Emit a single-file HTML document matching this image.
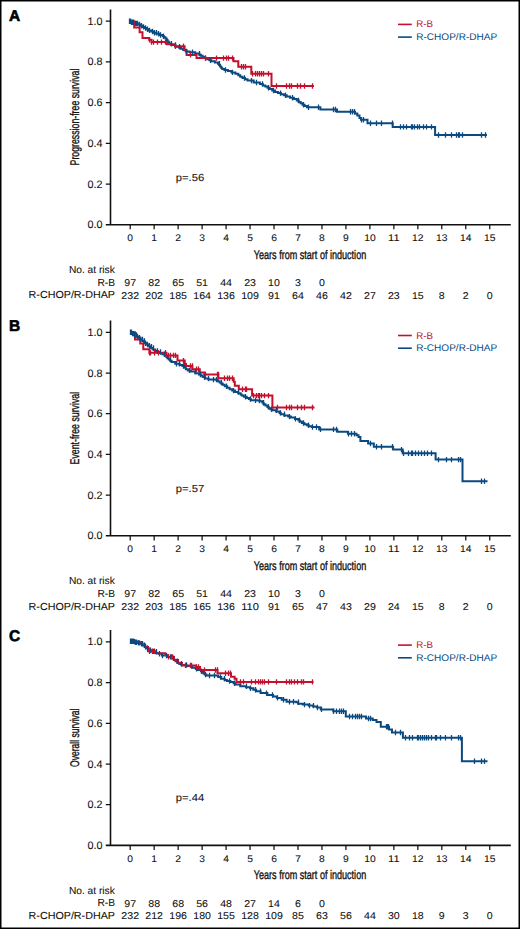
<!DOCTYPE html><html><head><meta charset="utf-8"><style>
html,body{margin:0;padding:0;background:#fff;overflow:hidden;width:520px;height:929px;}
svg{display:block;}
text{font-family:"Liberation Sans", sans-serif;fill:#111;stroke:#111;stroke-width:0.08px;text-rendering:geometricPrecision;}
</style></head><body>
<svg width="520" height="929" viewBox="0 0 520 929">
<rect x="0" y="0" width="520" height="929" fill="#fff"/>
<rect x="0.75" y="0.75" width="518.5" height="927.5" fill="none" stroke="#000" stroke-width="1.5"/>
<text x="9" y="20.90" style="font-weight:bold;font-size:15.5px;fill:#000;stroke:#000;stroke-width:0.6px">A</text><path d="M110.5 9.40V224.70M105.8 224.70H510.8" stroke="#111" stroke-width="1.6" fill="none"/><path d="M105.8 184.00H110.5M105.8 143.30H110.5M105.8 102.60H110.5M105.8 61.90H110.5M105.8 21.20H110.5M130.20 224.70V229.30M154.17 224.70V229.30M178.14 224.70V229.30M202.11 224.70V229.30M226.08 224.70V229.30M250.05 224.70V229.30M274.02 224.70V229.30M297.99 224.70V229.30M321.96 224.70V229.30M345.93 224.70V229.30M369.90 224.70V229.30M393.87 224.70V229.30M417.84 224.70V229.30M441.81 224.70V229.30M465.78 224.70V229.30M489.75 224.70V229.30" stroke="#111" stroke-width="1.25" fill="none"/><text x="102.4" y="228.20" text-anchor="end" style="font-size:10.8px">0.0</text><text x="102.4" y="187.50" text-anchor="end" style="font-size:10.8px">0.2</text><text x="102.4" y="146.80" text-anchor="end" style="font-size:10.8px">0.4</text><text x="102.4" y="106.10" text-anchor="end" style="font-size:10.8px">0.6</text><text x="102.4" y="65.40" text-anchor="end" style="font-size:10.8px">0.8</text><text x="102.4" y="24.70" text-anchor="end" style="font-size:10.8px">1.0</text><text x="130.20" y="241.00" text-anchor="middle" textLength="5.73" lengthAdjust="spacingAndGlyphs" style="font-size:9.6px">0</text><text x="154.17" y="241.00" text-anchor="middle" textLength="5.73" lengthAdjust="spacingAndGlyphs" style="font-size:9.6px">1</text><text x="178.14" y="241.00" text-anchor="middle" textLength="5.73" lengthAdjust="spacingAndGlyphs" style="font-size:9.6px">2</text><text x="202.11" y="241.00" text-anchor="middle" textLength="5.73" lengthAdjust="spacingAndGlyphs" style="font-size:9.6px">3</text><text x="226.08" y="241.00" text-anchor="middle" textLength="5.73" lengthAdjust="spacingAndGlyphs" style="font-size:9.6px">4</text><text x="250.05" y="241.00" text-anchor="middle" textLength="5.73" lengthAdjust="spacingAndGlyphs" style="font-size:9.6px">5</text><text x="274.02" y="241.00" text-anchor="middle" textLength="5.73" lengthAdjust="spacingAndGlyphs" style="font-size:9.6px">6</text><text x="297.99" y="241.00" text-anchor="middle" textLength="5.73" lengthAdjust="spacingAndGlyphs" style="font-size:9.6px">7</text><text x="321.96" y="241.00" text-anchor="middle" textLength="5.73" lengthAdjust="spacingAndGlyphs" style="font-size:9.6px">8</text><text x="345.93" y="241.00" text-anchor="middle" textLength="5.73" lengthAdjust="spacingAndGlyphs" style="font-size:9.6px">9</text><text x="369.90" y="241.00" text-anchor="middle" textLength="11.46" lengthAdjust="spacingAndGlyphs" style="font-size:9.6px">10</text><text x="393.87" y="241.00" text-anchor="middle" textLength="11.46" lengthAdjust="spacingAndGlyphs" style="font-size:9.6px">11</text><text x="417.84" y="241.00" text-anchor="middle" textLength="11.46" lengthAdjust="spacingAndGlyphs" style="font-size:9.6px">12</text><text x="441.81" y="241.00" text-anchor="middle" textLength="11.46" lengthAdjust="spacingAndGlyphs" style="font-size:9.6px">13</text><text x="465.78" y="241.00" text-anchor="middle" textLength="11.46" lengthAdjust="spacingAndGlyphs" style="font-size:9.6px">14</text><text x="489.75" y="241.00" text-anchor="middle" textLength="11.46" lengthAdjust="spacingAndGlyphs" style="font-size:9.6px">15</text><text transform="translate(310 258.60) scale(0.7309 1)" x="0" y="0" text-anchor="middle" style="font-size:12.4px;stroke:#111;stroke-width:0.35px">Years from start of induction</text><text transform="translate(78.7 117.05) rotate(-90) scale(0.6947 1)" x="0" y="0" text-anchor="middle" style="font-size:12.6px;stroke:#111;stroke-width:0.35px">Progression-free survival</text><path d="M398 24.40H411.8" stroke="#c4102e" stroke-width="1.6"/><path d="M398 37.10H411.8" stroke="#0a4a80" stroke-width="1.6"/><text x="416.2" y="27.40" textLength="16.8" lengthAdjust="spacingAndGlyphs" style="font-size:9.6px;fill:#c4102e;stroke:none">R-B</text><text x="416.2" y="40.10" textLength="81.0" lengthAdjust="spacingAndGlyphs" style="font-size:9.6px;fill:#0a4a80;stroke:none">R-CHOP/R-DHAP</text><text x="175.8" y="180.60" textLength="28.4" lengthAdjust="spacingAndGlyphs" style="font-size:10.2px">p=.56</text><text x="114.8" y="273.00" text-anchor="end" style="font-size:10.2px">No. at risk</text><text x="115" y="285.60" text-anchor="end" style="font-size:10.2px">R-B</text><text x="115" y="298.40" text-anchor="end" textLength="86.4" lengthAdjust="spacingAndGlyphs" style="font-size:10.2px">R-CHOP/R-DHAP</text><text x="130.20" y="285.80" text-anchor="middle" textLength="11.78" lengthAdjust="spacingAndGlyphs" style="font-size:9.9px">97</text><text x="154.17" y="285.80" text-anchor="middle" textLength="11.78" lengthAdjust="spacingAndGlyphs" style="font-size:9.9px">82</text><text x="178.14" y="285.80" text-anchor="middle" textLength="11.78" lengthAdjust="spacingAndGlyphs" style="font-size:9.9px">65</text><text x="202.11" y="285.80" text-anchor="middle" textLength="11.78" lengthAdjust="spacingAndGlyphs" style="font-size:9.9px">51</text><text x="226.08" y="285.80" text-anchor="middle" textLength="11.78" lengthAdjust="spacingAndGlyphs" style="font-size:9.9px">44</text><text x="250.05" y="285.80" text-anchor="middle" textLength="11.78" lengthAdjust="spacingAndGlyphs" style="font-size:9.9px">23</text><text x="274.02" y="285.80" text-anchor="middle" textLength="11.78" lengthAdjust="spacingAndGlyphs" style="font-size:9.9px">10</text><text x="297.99" y="285.80" text-anchor="middle" textLength="5.89" lengthAdjust="spacingAndGlyphs" style="font-size:9.9px">3</text><text x="321.96" y="285.80" text-anchor="middle" textLength="5.89" lengthAdjust="spacingAndGlyphs" style="font-size:9.9px">0</text><text x="130.20" y="298.50" text-anchor="middle" textLength="17.67" lengthAdjust="spacingAndGlyphs" style="font-size:9.9px">232</text><text x="154.17" y="298.50" text-anchor="middle" textLength="17.67" lengthAdjust="spacingAndGlyphs" style="font-size:9.9px">202</text><text x="178.14" y="298.50" text-anchor="middle" textLength="17.67" lengthAdjust="spacingAndGlyphs" style="font-size:9.9px">185</text><text x="202.11" y="298.50" text-anchor="middle" textLength="17.67" lengthAdjust="spacingAndGlyphs" style="font-size:9.9px">164</text><text x="226.08" y="298.50" text-anchor="middle" textLength="17.67" lengthAdjust="spacingAndGlyphs" style="font-size:9.9px">136</text><text x="250.05" y="298.50" text-anchor="middle" textLength="17.67" lengthAdjust="spacingAndGlyphs" style="font-size:9.9px">109</text><text x="274.02" y="298.50" text-anchor="middle" textLength="11.78" lengthAdjust="spacingAndGlyphs" style="font-size:9.9px">91</text><text x="297.99" y="298.50" text-anchor="middle" textLength="11.78" lengthAdjust="spacingAndGlyphs" style="font-size:9.9px">64</text><text x="321.96" y="298.50" text-anchor="middle" textLength="11.78" lengthAdjust="spacingAndGlyphs" style="font-size:9.9px">46</text><text x="345.93" y="298.50" text-anchor="middle" textLength="11.78" lengthAdjust="spacingAndGlyphs" style="font-size:9.9px">42</text><text x="369.90" y="298.50" text-anchor="middle" textLength="11.78" lengthAdjust="spacingAndGlyphs" style="font-size:9.9px">27</text><text x="393.87" y="298.50" text-anchor="middle" textLength="11.78" lengthAdjust="spacingAndGlyphs" style="font-size:9.9px">23</text><text x="417.84" y="298.50" text-anchor="middle" textLength="11.78" lengthAdjust="spacingAndGlyphs" style="font-size:9.9px">15</text><text x="441.81" y="298.50" text-anchor="middle" textLength="5.89" lengthAdjust="spacingAndGlyphs" style="font-size:9.9px">8</text><text x="465.78" y="298.50" text-anchor="middle" textLength="5.89" lengthAdjust="spacingAndGlyphs" style="font-size:9.9px">2</text><text x="489.75" y="298.50" text-anchor="middle" textLength="5.89" lengthAdjust="spacingAndGlyphs" style="font-size:9.9px">0</text><path d="M130.2 21.2L131.8 21.2L131.8 22.3L134.8 22.3L134.8 23.4L137.9 23.4L137.9 24.5L139.5 24.5L140.6 24.5L140.6 25.7L142.7 25.7L142.7 26.9L144.8 26.9L144.8 28.0L146.8 28.0L146.8 29.2L148.9 29.2L148.9 30.4L150.0 30.4L151.3 30.4L151.3 31.5L153.8 31.5L153.8 32.7L156.4 32.7L156.4 33.8L157.7 33.8L159.8 33.8L159.8 35.0L161.9 35.0L162.6 35.0L162.6 36.2L164.1 36.2L164.1 37.3L165.5 37.3L165.5 38.5L166.2 38.5L166.7 38.5L166.7 40.0L167.6 40.0L167.6 41.5L168.1 41.5L168.6 41.5L168.6 42.6L169.5 42.6L169.5 43.8L170.0 43.8L171.2 43.8L171.2 44.9L172.4 44.9L175.4 44.9L175.4 46.8L178.5 46.8L179.3 46.8L179.3 47.8L181.0 47.8L181.0 48.8L181.8 48.8L183.2 48.8L183.2 50.1L185.8 50.1L185.8 51.5L187.2 51.5L189.6 51.5L189.6 52.3L191.9 52.3L195.2 52.3L195.2 53.6L198.6 53.6L199.3 53.6L199.3 54.7L200.8 54.7L200.8 55.8L201.5 55.8L202.7 55.8L202.7 56.9L205.0 56.9L205.0 58.1L207.3 58.1L207.3 59.2L208.5 59.2L209.4 59.2L209.4 60.2L211.4 60.2L211.4 61.2L212.3 61.2L214.9 61.2L214.9 62.5L217.5 62.5L218.0 62.5L218.0 63.8L219.1 63.8L219.1 65.1L220.1 65.1L220.1 66.4L221.1 66.4L221.1 67.7L222.2 67.7L222.2 69.0L222.7 69.0L224.4 69.0L224.4 70.0L227.9 70.0L227.9 71.0L229.6 71.0L231.5 71.0L231.5 72.4L235.4 72.4L235.4 73.8L237.3 73.8L238.3 73.8L238.3 75.2L240.2 75.2L240.2 76.7L241.2 76.7L242.5 76.7L242.5 78.0L245.0 78.0L245.0 79.3L247.5 79.3L247.5 80.6L248.8 80.6L253.7 80.6L253.7 82.5L258.5 82.5L259.9 82.5L259.9 84.0L262.8 84.0L262.8 85.4L264.2 85.4L265.3 85.4L265.3 86.6L267.5 86.6L267.5 87.8L269.7 87.8L269.7 89.0L270.8 89.0L272.2 89.0L272.2 90.5L275.1 90.5L275.1 91.9L276.5 91.9L277.9 91.9L277.9 93.1L280.9 93.1L280.9 94.2L282.3 94.2L283.8 94.2L283.8 95.3L286.7 95.3L286.7 96.5L288.1 96.5L290.0 96.5L290.0 97.8L293.9 97.8L293.9 99.0L295.8 99.0L296.8 99.0L296.8 100.5L298.7 100.5L298.7 101.9L299.6 101.9L300.6 101.9L300.6 103.3L302.5 103.3L302.5 104.8L303.5 104.8L304.6 104.8L304.6 106.0L306.9 106.0L306.9 107.3L308.0 107.3L320.4 107.3L320.4 109.5L337.0 109.5L337.0 111.7L355.0 111.7L355.0 113.5L357.3 113.5L357.3 115.6L359.5 115.6L359.5 118.0L361.0 118.0L361.0 119.8L367.5 119.8L367.5 123.3L392.7 123.3L392.7 126.9L435.1 126.9L435.1 135.0L487.0 135.0" stroke="#0a4a80" stroke-width="2.0" fill="none" stroke-linejoin="miter"/><path d="M130.2 21.2L134.2 21.2L134.2 27.6L139.6 27.6L139.6 32.3L142.5 32.3L142.5 38.0L149.2 38.0L149.2 39.8L151.5 39.8L151.5 42.1L167.0 42.1L167.0 44.3L175.0 44.3L175.0 46.3L184.6 46.3L184.6 50.3L186.6 50.3L186.6 54.9L196.5 54.9L196.5 58.1L233.5 58.1L233.5 61.3L238.3 61.3L238.3 66.7L251.3 66.7L251.3 73.8L271.5 73.8L271.5 86.0L314.0 86.0" stroke="#c4102e" stroke-width="2.0" fill="none" stroke-linejoin="miter"/><path d="M129.5 18.5v5.4M130.5 18.5v5.4M131.5 19.6v5.4M132.5 19.6v5.4M133.5 19.6v5.4M135.5 20.7v5.4M136.5 20.7v5.4M137.5 20.7v5.4M139.5 21.8v5.4M141.5 23.0v5.4M143.5 24.2v5.4M145.5 25.3v5.4M147.5 26.5v5.4M149.5 27.7v5.4M152.5 28.8v5.4M154.5 30.0v5.4M156.5 30.0v5.4M158.5 31.1v5.4M160.5 32.3v5.4M163.5 33.5v5.4M171.5 41.1v5.4M175.5 42.2v5.4M179.5 44.1v5.4M186.5 48.8v5.4M192.5 49.6v5.4M199.5 50.9v5.4M205.5 55.4v5.4M210.5 57.5v5.4M219.5 61.1v5.4M225.5 67.3v5.4M232.5 69.7v5.4M244.5 75.3v5.4M251.5 77.9v5.4M256.5 79.8v5.4M262.5 81.2v5.4M268.5 85.1v5.4M273.5 87.8v5.4M280.5 90.4v5.4M285.5 92.6v5.4M292.5 95.0v5.4M298.5 97.8v5.4M303.5 102.1v5.4M308.5 104.6v5.4M318.5 104.6v5.4M333.5 106.8v5.4M335.5 106.8v5.4M350.5 109.0v5.4M352.5 109.0v5.4M354.5 109.0v5.4M361.5 117.1v5.4M363.5 117.1v5.4M370.5 120.6v5.4M376.5 120.6v5.4M381.5 120.6v5.4M392.5 120.6v5.4M400.5 124.2v5.4M403.5 124.2v5.4M406.5 124.2v5.4M411.5 124.2v5.4M412.5 124.2v5.4M414.5 124.2v5.4M417.5 124.2v5.4M419.5 124.2v5.4M423.5 124.2v5.4M426.5 124.2v5.4M431.5 124.2v5.4M438.5 132.3v5.4M445.5 132.3v5.4M451.5 132.3v5.4M456.5 132.3v5.4M458.5 132.3v5.4M459.5 132.3v5.4M462.5 132.3v5.4M481.5 132.3v5.4M485.5 132.3v5.4" stroke="#0a4a80" stroke-width="1.3" fill="none"/><path d="M149.5 37.1v5.4M151.5 39.4v5.4M153.5 39.4v5.4M157.5 39.4v5.4M161.5 39.4v5.4M165.5 39.4v5.4M175.5 43.6v5.4M183.5 43.6v5.4M190.5 52.2v5.4M205.5 55.4v5.4M216.5 55.4v5.4M223.5 55.4v5.4M226.5 55.4v5.4M228.5 55.4v5.4M232.5 55.4v5.4M241.5 64.0v5.4M243.5 64.0v5.4M245.5 64.0v5.4M252.5 71.1v5.4M255.5 71.1v5.4M257.5 71.1v5.4M259.5 71.1v5.4M261.5 71.1v5.4M263.5 71.1v5.4M268.5 71.1v5.4M276.5 83.3v5.4M286.5 83.3v5.4M289.5 83.3v5.4M291.5 83.3v5.4M297.5 83.3v5.4M300.5 83.3v5.4M304.5 83.3v5.4M312.5 83.3v5.4" stroke="#c4102e" stroke-width="1.3" fill="none"/>
<text x="9" y="331.30" style="font-weight:bold;font-size:15.5px;fill:#000;stroke:#000;stroke-width:0.6px">B</text><path d="M110.5 320.50V535.80M105.8 535.80H510.8" stroke="#111" stroke-width="1.6" fill="none"/><path d="M105.8 495.10H110.5M105.8 454.40H110.5M105.8 413.70H110.5M105.8 373.00H110.5M105.8 332.30H110.5M130.20 535.80V540.40M154.17 535.80V540.40M178.14 535.80V540.40M202.11 535.80V540.40M226.08 535.80V540.40M250.05 535.80V540.40M274.02 535.80V540.40M297.99 535.80V540.40M321.96 535.80V540.40M345.93 535.80V540.40M369.90 535.80V540.40M393.87 535.80V540.40M417.84 535.80V540.40M441.81 535.80V540.40M465.78 535.80V540.40M489.75 535.80V540.40" stroke="#111" stroke-width="1.25" fill="none"/><text x="102.4" y="539.30" text-anchor="end" style="font-size:10.8px">0.0</text><text x="102.4" y="498.60" text-anchor="end" style="font-size:10.8px">0.2</text><text x="102.4" y="457.90" text-anchor="end" style="font-size:10.8px">0.4</text><text x="102.4" y="417.20" text-anchor="end" style="font-size:10.8px">0.6</text><text x="102.4" y="376.50" text-anchor="end" style="font-size:10.8px">0.8</text><text x="102.4" y="335.80" text-anchor="end" style="font-size:10.8px">1.0</text><text x="130.20" y="552.10" text-anchor="middle" textLength="5.73" lengthAdjust="spacingAndGlyphs" style="font-size:9.6px">0</text><text x="154.17" y="552.10" text-anchor="middle" textLength="5.73" lengthAdjust="spacingAndGlyphs" style="font-size:9.6px">1</text><text x="178.14" y="552.10" text-anchor="middle" textLength="5.73" lengthAdjust="spacingAndGlyphs" style="font-size:9.6px">2</text><text x="202.11" y="552.10" text-anchor="middle" textLength="5.73" lengthAdjust="spacingAndGlyphs" style="font-size:9.6px">3</text><text x="226.08" y="552.10" text-anchor="middle" textLength="5.73" lengthAdjust="spacingAndGlyphs" style="font-size:9.6px">4</text><text x="250.05" y="552.10" text-anchor="middle" textLength="5.73" lengthAdjust="spacingAndGlyphs" style="font-size:9.6px">5</text><text x="274.02" y="552.10" text-anchor="middle" textLength="5.73" lengthAdjust="spacingAndGlyphs" style="font-size:9.6px">6</text><text x="297.99" y="552.10" text-anchor="middle" textLength="5.73" lengthAdjust="spacingAndGlyphs" style="font-size:9.6px">7</text><text x="321.96" y="552.10" text-anchor="middle" textLength="5.73" lengthAdjust="spacingAndGlyphs" style="font-size:9.6px">8</text><text x="345.93" y="552.10" text-anchor="middle" textLength="5.73" lengthAdjust="spacingAndGlyphs" style="font-size:9.6px">9</text><text x="369.90" y="552.10" text-anchor="middle" textLength="11.46" lengthAdjust="spacingAndGlyphs" style="font-size:9.6px">10</text><text x="393.87" y="552.10" text-anchor="middle" textLength="11.46" lengthAdjust="spacingAndGlyphs" style="font-size:9.6px">11</text><text x="417.84" y="552.10" text-anchor="middle" textLength="11.46" lengthAdjust="spacingAndGlyphs" style="font-size:9.6px">12</text><text x="441.81" y="552.10" text-anchor="middle" textLength="11.46" lengthAdjust="spacingAndGlyphs" style="font-size:9.6px">13</text><text x="465.78" y="552.10" text-anchor="middle" textLength="11.46" lengthAdjust="spacingAndGlyphs" style="font-size:9.6px">14</text><text x="489.75" y="552.10" text-anchor="middle" textLength="11.46" lengthAdjust="spacingAndGlyphs" style="font-size:9.6px">15</text><text transform="translate(310 569.70) scale(0.7309 1)" x="0" y="0" text-anchor="middle" style="font-size:12.4px;stroke:#111;stroke-width:0.35px">Years from start of induction</text><text transform="translate(78.7 428.15) rotate(-90) scale(0.6959 1)" x="0" y="0" text-anchor="middle" style="font-size:12.6px;stroke:#111;stroke-width:0.35px">Event-free survival</text><path d="M398 335.50H411.8" stroke="#c4102e" stroke-width="1.6"/><path d="M398 348.20H411.8" stroke="#0a4a80" stroke-width="1.6"/><text x="416.2" y="338.50" textLength="16.8" lengthAdjust="spacingAndGlyphs" style="font-size:9.6px;fill:#c4102e;stroke:none">R-B</text><text x="416.2" y="351.20" textLength="81.0" lengthAdjust="spacingAndGlyphs" style="font-size:9.6px;fill:#0a4a80;stroke:none">R-CHOP/R-DHAP</text><text x="175.8" y="491.70" textLength="28.4" lengthAdjust="spacingAndGlyphs" style="font-size:10.2px">p=.57</text><text x="114.8" y="584.10" text-anchor="end" style="font-size:10.2px">No. at risk</text><text x="115" y="596.70" text-anchor="end" style="font-size:10.2px">R-B</text><text x="115" y="609.50" text-anchor="end" textLength="86.4" lengthAdjust="spacingAndGlyphs" style="font-size:10.2px">R-CHOP/R-DHAP</text><text x="130.20" y="596.90" text-anchor="middle" textLength="11.78" lengthAdjust="spacingAndGlyphs" style="font-size:9.9px">97</text><text x="154.17" y="596.90" text-anchor="middle" textLength="11.78" lengthAdjust="spacingAndGlyphs" style="font-size:9.9px">82</text><text x="178.14" y="596.90" text-anchor="middle" textLength="11.78" lengthAdjust="spacingAndGlyphs" style="font-size:9.9px">65</text><text x="202.11" y="596.90" text-anchor="middle" textLength="11.78" lengthAdjust="spacingAndGlyphs" style="font-size:9.9px">51</text><text x="226.08" y="596.90" text-anchor="middle" textLength="11.78" lengthAdjust="spacingAndGlyphs" style="font-size:9.9px">44</text><text x="250.05" y="596.90" text-anchor="middle" textLength="11.78" lengthAdjust="spacingAndGlyphs" style="font-size:9.9px">23</text><text x="274.02" y="596.90" text-anchor="middle" textLength="11.78" lengthAdjust="spacingAndGlyphs" style="font-size:9.9px">10</text><text x="297.99" y="596.90" text-anchor="middle" textLength="5.89" lengthAdjust="spacingAndGlyphs" style="font-size:9.9px">3</text><text x="321.96" y="596.90" text-anchor="middle" textLength="5.89" lengthAdjust="spacingAndGlyphs" style="font-size:9.9px">0</text><text x="130.20" y="609.60" text-anchor="middle" textLength="17.67" lengthAdjust="spacingAndGlyphs" style="font-size:9.9px">232</text><text x="154.17" y="609.60" text-anchor="middle" textLength="17.67" lengthAdjust="spacingAndGlyphs" style="font-size:9.9px">203</text><text x="178.14" y="609.60" text-anchor="middle" textLength="17.67" lengthAdjust="spacingAndGlyphs" style="font-size:9.9px">185</text><text x="202.11" y="609.60" text-anchor="middle" textLength="17.67" lengthAdjust="spacingAndGlyphs" style="font-size:9.9px">165</text><text x="226.08" y="609.60" text-anchor="middle" textLength="17.67" lengthAdjust="spacingAndGlyphs" style="font-size:9.9px">136</text><text x="250.05" y="609.60" text-anchor="middle" textLength="17.67" lengthAdjust="spacingAndGlyphs" style="font-size:9.9px">110</text><text x="274.02" y="609.60" text-anchor="middle" textLength="11.78" lengthAdjust="spacingAndGlyphs" style="font-size:9.9px">91</text><text x="297.99" y="609.60" text-anchor="middle" textLength="11.78" lengthAdjust="spacingAndGlyphs" style="font-size:9.9px">65</text><text x="321.96" y="609.60" text-anchor="middle" textLength="11.78" lengthAdjust="spacingAndGlyphs" style="font-size:9.9px">47</text><text x="345.93" y="609.60" text-anchor="middle" textLength="11.78" lengthAdjust="spacingAndGlyphs" style="font-size:9.9px">43</text><text x="369.90" y="609.60" text-anchor="middle" textLength="11.78" lengthAdjust="spacingAndGlyphs" style="font-size:9.9px">29</text><text x="393.87" y="609.60" text-anchor="middle" textLength="11.78" lengthAdjust="spacingAndGlyphs" style="font-size:9.9px">24</text><text x="417.84" y="609.60" text-anchor="middle" textLength="11.78" lengthAdjust="spacingAndGlyphs" style="font-size:9.9px">15</text><text x="441.81" y="609.60" text-anchor="middle" textLength="5.89" lengthAdjust="spacingAndGlyphs" style="font-size:9.9px">8</text><text x="465.78" y="609.60" text-anchor="middle" textLength="5.89" lengthAdjust="spacingAndGlyphs" style="font-size:9.9px">2</text><text x="489.75" y="609.60" text-anchor="middle" textLength="5.89" lengthAdjust="spacingAndGlyphs" style="font-size:9.9px">0</text><path d="M130.2 332.3L131.6 332.3L131.6 333.6L134.3 333.6L134.3 335.0L135.7 335.0L136.6 335.0L136.6 336.4L138.6 336.4L138.6 337.8L139.5 337.8L140.5 337.8L140.5 339.4L142.4 339.4L142.4 341.0L143.4 341.0L144.0 341.0L144.0 342.2L145.3 342.2L145.3 343.3L146.6 343.3L146.6 344.5L147.2 344.5L148.0 344.5L148.0 345.7L149.6 345.7L149.6 346.8L151.1 346.8L151.1 348.0L151.9 348.0L153.1 348.0L153.1 349.5L155.3 349.5L155.3 351.0L156.5 351.0L157.7 351.0L157.7 352.0L160.0 352.0L160.0 353.0L161.2 353.0L162.3 353.0L162.3 354.2L163.5 354.2L164.7 354.2L164.7 355.5L165.8 355.5L166.4 355.5L166.4 356.9L167.4 356.9L167.4 358.3L168.0 358.3L168.7 358.3L168.7 359.5L170.2 359.5L170.2 360.8L171.6 360.8L171.6 362.0L172.3 362.0L175.2 362.0L175.2 363.8L178.1 363.8L179.6 363.8L179.6 364.9L182.4 364.9L182.4 366.0L183.9 366.0L184.6 366.0L184.6 367.6L185.8 367.6L185.8 369.2L186.5 369.2L187.9 369.2L187.9 370.4L190.9 370.4L190.9 371.5L192.3 371.5L195.2 371.5L195.2 373.3L198.1 373.3L198.9 373.3L198.9 374.5L200.7 374.5L200.7 375.6L201.5 375.6L202.7 375.6L202.7 377.1L205.0 377.1L205.0 378.5L206.2 378.5L208.5 378.5L208.5 379.6L210.8 379.6L216.5 379.6L216.5 380.0L217.7 380.0L217.7 381.3L218.8 381.3L219.6 381.3L219.6 382.5L221.2 382.5L221.2 383.6L222.7 383.6L222.7 384.8L223.5 384.8L224.7 384.8L224.7 386.3L227.2 386.3L227.2 387.7L229.6 387.7L229.6 389.2L230.8 389.2L232.2 389.2L232.2 390.6L235.1 390.6L235.1 392.1L236.5 392.1L238.2 392.1L238.2 393.3L240.0 393.3L240.6 393.3L240.6 394.5L241.7 394.5L241.7 395.6L242.3 395.6L243.8 395.6L243.8 396.8L246.7 396.8L246.7 397.9L248.1 397.9L248.9 397.9L248.9 399.0L250.7 399.0L250.7 400.2L251.5 400.2L257.3 400.2L257.3 400.6L259.6 400.6L259.6 401.3L261.9 401.3L262.5 401.3L262.5 402.8L263.6 402.8L263.6 404.2L264.2 404.2L265.4 404.2L265.4 405.5L266.7 405.5L267.4 405.5L267.4 406.9L268.7 406.9L268.7 408.2L269.4 408.2L270.4 408.2L270.4 409.2L272.5 409.2L272.5 410.2L273.5 410.2L276.1 410.2L276.1 411.5L278.8 411.5L279.5 411.5L279.5 412.9L280.8 412.9L280.8 414.2L281.5 414.2L284.2 414.2L284.2 415.6L286.9 415.6L288.2 415.6L288.2 416.6L290.9 416.6L290.9 417.6L292.3 417.6L295.0 417.6L295.0 418.9L297.7 418.9L298.4 418.9L298.4 420.2L299.7 420.2L299.7 421.6L300.4 421.6L301.8 421.6L301.8 423.0L304.4 423.0L304.4 424.3L305.8 424.3L306.8 424.3L306.8 425.3L308.8 425.3L308.8 426.3L309.8 426.3L311.8 426.3L311.8 427.0L313.8 427.0L319.2 427.0L319.2 429.4L337.3 429.4L337.3 431.7L347.9 431.7L347.9 433.7L356.5 433.7L356.5 435.2L358.5 435.2L358.5 437.1L360.4 437.1L360.4 441.0L368.1 441.0L368.1 443.5L373.8 443.5L373.8 446.7L393.1 446.7L393.1 449.6L402.7 449.6L402.7 453.3L435.6 453.3L435.6 459.6L462.5 459.6L462.5 481.3L487.5 481.3" stroke="#0a4a80" stroke-width="2.0" fill="none" stroke-linejoin="miter"/><path d="M130.2 332.3L135.0 332.3L135.0 339.5L140.3 339.5L140.3 343.5L143.3 343.5L143.3 349.3L149.4 349.3L149.4 352.8L166.5 352.8L166.5 355.4L177.5 355.4L177.5 360.6L184.8 360.6L184.8 364.0L186.0 364.0L186.0 366.0L192.3 366.0L192.3 369.2L199.8 369.2L199.8 372.5L204.4 372.5L204.4 374.4L218.3 374.4L218.3 378.2L233.7 378.2L233.7 381.7L234.8 381.7L234.8 385.8L238.8 385.8L238.8 389.2L252.1 389.2L252.1 395.6L272.4 395.6L272.4 407.5L314.5 407.5" stroke="#c4102e" stroke-width="2.0" fill="none" stroke-linejoin="miter"/><path d="M130.5 329.6v5.4M131.5 329.6v5.4M132.5 330.9v5.4M133.5 330.9v5.4M134.5 332.3v5.4M136.5 332.3v5.4M137.5 333.7v5.4M139.5 335.1v5.4M140.5 336.7v5.4M142.5 336.7v5.4M144.5 338.3v5.4M145.5 340.6v5.4M147.5 341.8v5.4M149.5 343.0v5.4M151.5 344.1v5.4M153.5 345.3v5.4M157.5 348.3v5.4M160.5 349.3v5.4M164.5 351.5v5.4M170.5 356.8v5.4M176.5 361.1v5.4M179.5 361.1v5.4M183.5 363.3v5.4M189.5 367.7v5.4M195.5 368.8v5.4M200.5 371.8v5.4M204.5 374.4v5.4M208.5 375.8v5.4M213.5 376.9v5.4M216.5 376.9v5.4M221.5 379.8v5.4M226.5 383.6v5.4M233.5 387.9v5.4M238.5 389.4v5.4M245.5 394.1v5.4M250.5 396.3v5.4M255.5 397.5v5.4M259.5 397.9v5.4M263.5 400.1v5.4M268.5 404.2v5.4M271.5 406.5v5.4M276.5 407.5v5.4M280.5 410.2v5.4M284.5 411.5v5.4M289.5 413.9v5.4M295.5 416.2v5.4M299.5 417.6v5.4M303.5 420.3v5.4M308.5 422.6v5.4M312.5 424.3v5.4M316.5 424.3v5.4M320.5 426.7v5.4M333.5 426.7v5.4M336.5 426.7v5.4M348.5 431.0v5.4M351.5 431.0v5.4M354.5 431.0v5.4M370.5 440.8v5.4M376.5 444.0v5.4M381.5 444.0v5.4M392.5 444.0v5.4M401.5 446.9v5.4M403.5 450.6v5.4M408.5 450.6v5.4M411.5 450.6v5.4M412.5 450.6v5.4M415.5 450.6v5.4M418.5 450.6v5.4M421.5 450.6v5.4M424.5 450.6v5.4M427.5 450.6v5.4M431.5 450.6v5.4M438.5 456.9v5.4M446.5 456.9v5.4M451.5 456.9v5.4M458.5 456.9v5.4M460.5 456.9v5.4M481.5 478.6v5.4M484.5 478.6v5.4" stroke="#0a4a80" stroke-width="1.3" fill="none"/><path d="M149.5 350.1v5.4M150.5 350.1v5.4M154.5 350.1v5.4M158.5 350.1v5.4M165.5 350.1v5.4M168.5 352.7v5.4M170.5 352.7v5.4M173.5 352.7v5.4M175.5 352.7v5.4M183.5 357.9v5.4M190.5 363.3v5.4M192.5 363.3v5.4M196.5 366.5v5.4M198.5 366.5v5.4M205.5 371.7v5.4M217.5 371.7v5.4M218.5 371.7v5.4M224.5 375.5v5.4M227.5 375.5v5.4M229.5 375.5v5.4M232.5 375.5v5.4M242.5 386.5v5.4M245.5 386.5v5.4M246.5 386.5v5.4M253.5 392.9v5.4M256.5 392.9v5.4M258.5 392.9v5.4M259.5 392.9v5.4M261.5 392.9v5.4M264.5 392.9v5.4M268.5 392.9v5.4M277.5 404.8v5.4M286.5 404.8v5.4M289.5 404.8v5.4M291.5 404.8v5.4M297.5 404.8v5.4M301.5 404.8v5.4M304.5 404.8v5.4M312.5 404.8v5.4" stroke="#c4102e" stroke-width="1.3" fill="none"/>
<text x="9" y="641.20" style="font-weight:bold;font-size:15.5px;fill:#000;stroke:#000;stroke-width:0.6px">C</text><path d="M110.5 630.10V845.40M105.8 845.40H510.8" stroke="#111" stroke-width="1.6" fill="none"/><path d="M105.8 804.70H110.5M105.8 764.00H110.5M105.8 723.30H110.5M105.8 682.60H110.5M105.8 641.90H110.5M130.20 845.40V850.00M154.17 845.40V850.00M178.14 845.40V850.00M202.11 845.40V850.00M226.08 845.40V850.00M250.05 845.40V850.00M274.02 845.40V850.00M297.99 845.40V850.00M321.96 845.40V850.00M345.93 845.40V850.00M369.90 845.40V850.00M393.87 845.40V850.00M417.84 845.40V850.00M441.81 845.40V850.00M465.78 845.40V850.00M489.75 845.40V850.00" stroke="#111" stroke-width="1.25" fill="none"/><text x="102.4" y="848.90" text-anchor="end" style="font-size:10.8px">0.0</text><text x="102.4" y="808.20" text-anchor="end" style="font-size:10.8px">0.2</text><text x="102.4" y="767.50" text-anchor="end" style="font-size:10.8px">0.4</text><text x="102.4" y="726.80" text-anchor="end" style="font-size:10.8px">0.6</text><text x="102.4" y="686.10" text-anchor="end" style="font-size:10.8px">0.8</text><text x="102.4" y="645.40" text-anchor="end" style="font-size:10.8px">1.0</text><text x="130.20" y="861.70" text-anchor="middle" textLength="5.73" lengthAdjust="spacingAndGlyphs" style="font-size:9.6px">0</text><text x="154.17" y="861.70" text-anchor="middle" textLength="5.73" lengthAdjust="spacingAndGlyphs" style="font-size:9.6px">1</text><text x="178.14" y="861.70" text-anchor="middle" textLength="5.73" lengthAdjust="spacingAndGlyphs" style="font-size:9.6px">2</text><text x="202.11" y="861.70" text-anchor="middle" textLength="5.73" lengthAdjust="spacingAndGlyphs" style="font-size:9.6px">3</text><text x="226.08" y="861.70" text-anchor="middle" textLength="5.73" lengthAdjust="spacingAndGlyphs" style="font-size:9.6px">4</text><text x="250.05" y="861.70" text-anchor="middle" textLength="5.73" lengthAdjust="spacingAndGlyphs" style="font-size:9.6px">5</text><text x="274.02" y="861.70" text-anchor="middle" textLength="5.73" lengthAdjust="spacingAndGlyphs" style="font-size:9.6px">6</text><text x="297.99" y="861.70" text-anchor="middle" textLength="5.73" lengthAdjust="spacingAndGlyphs" style="font-size:9.6px">7</text><text x="321.96" y="861.70" text-anchor="middle" textLength="5.73" lengthAdjust="spacingAndGlyphs" style="font-size:9.6px">8</text><text x="345.93" y="861.70" text-anchor="middle" textLength="5.73" lengthAdjust="spacingAndGlyphs" style="font-size:9.6px">9</text><text x="369.90" y="861.70" text-anchor="middle" textLength="11.46" lengthAdjust="spacingAndGlyphs" style="font-size:9.6px">10</text><text x="393.87" y="861.70" text-anchor="middle" textLength="11.46" lengthAdjust="spacingAndGlyphs" style="font-size:9.6px">11</text><text x="417.84" y="861.70" text-anchor="middle" textLength="11.46" lengthAdjust="spacingAndGlyphs" style="font-size:9.6px">12</text><text x="441.81" y="861.70" text-anchor="middle" textLength="11.46" lengthAdjust="spacingAndGlyphs" style="font-size:9.6px">13</text><text x="465.78" y="861.70" text-anchor="middle" textLength="11.46" lengthAdjust="spacingAndGlyphs" style="font-size:9.6px">14</text><text x="489.75" y="861.70" text-anchor="middle" textLength="11.46" lengthAdjust="spacingAndGlyphs" style="font-size:9.6px">15</text><text transform="translate(310 879.30) scale(0.7309 1)" x="0" y="0" text-anchor="middle" style="font-size:12.4px;stroke:#111;stroke-width:0.35px">Years from start of induction</text><text transform="translate(78.7 737.75) rotate(-90) scale(0.6781 1)" x="0" y="0" text-anchor="middle" style="font-size:12.6px;stroke:#111;stroke-width:0.35px">Overall survival</text><path d="M398 645.10H411.8" stroke="#c4102e" stroke-width="1.6"/><path d="M398 657.80H411.8" stroke="#0a4a80" stroke-width="1.6"/><text x="416.2" y="648.10" textLength="16.8" lengthAdjust="spacingAndGlyphs" style="font-size:9.6px;fill:#c4102e;stroke:none">R-B</text><text x="416.2" y="660.80" textLength="81.0" lengthAdjust="spacingAndGlyphs" style="font-size:9.6px;fill:#0a4a80;stroke:none">R-CHOP/R-DHAP</text><text x="175.8" y="801.30" textLength="28.4" lengthAdjust="spacingAndGlyphs" style="font-size:10.2px">p=.44</text><text x="114.8" y="893.70" text-anchor="end" style="font-size:10.2px">No. at risk</text><text x="115" y="906.30" text-anchor="end" style="font-size:10.2px">R-B</text><text x="115" y="919.10" text-anchor="end" textLength="86.4" lengthAdjust="spacingAndGlyphs" style="font-size:10.2px">R-CHOP/R-DHAP</text><text x="130.20" y="906.50" text-anchor="middle" textLength="11.78" lengthAdjust="spacingAndGlyphs" style="font-size:9.9px">97</text><text x="154.17" y="906.50" text-anchor="middle" textLength="11.78" lengthAdjust="spacingAndGlyphs" style="font-size:9.9px">88</text><text x="178.14" y="906.50" text-anchor="middle" textLength="11.78" lengthAdjust="spacingAndGlyphs" style="font-size:9.9px">68</text><text x="202.11" y="906.50" text-anchor="middle" textLength="11.78" lengthAdjust="spacingAndGlyphs" style="font-size:9.9px">56</text><text x="226.08" y="906.50" text-anchor="middle" textLength="11.78" lengthAdjust="spacingAndGlyphs" style="font-size:9.9px">48</text><text x="250.05" y="906.50" text-anchor="middle" textLength="11.78" lengthAdjust="spacingAndGlyphs" style="font-size:9.9px">27</text><text x="274.02" y="906.50" text-anchor="middle" textLength="11.78" lengthAdjust="spacingAndGlyphs" style="font-size:9.9px">14</text><text x="297.99" y="906.50" text-anchor="middle" textLength="5.89" lengthAdjust="spacingAndGlyphs" style="font-size:9.9px">6</text><text x="321.96" y="906.50" text-anchor="middle" textLength="5.89" lengthAdjust="spacingAndGlyphs" style="font-size:9.9px">0</text><text x="130.20" y="919.20" text-anchor="middle" textLength="17.67" lengthAdjust="spacingAndGlyphs" style="font-size:9.9px">232</text><text x="154.17" y="919.20" text-anchor="middle" textLength="17.67" lengthAdjust="spacingAndGlyphs" style="font-size:9.9px">212</text><text x="178.14" y="919.20" text-anchor="middle" textLength="17.67" lengthAdjust="spacingAndGlyphs" style="font-size:9.9px">196</text><text x="202.11" y="919.20" text-anchor="middle" textLength="17.67" lengthAdjust="spacingAndGlyphs" style="font-size:9.9px">180</text><text x="226.08" y="919.20" text-anchor="middle" textLength="17.67" lengthAdjust="spacingAndGlyphs" style="font-size:9.9px">155</text><text x="250.05" y="919.20" text-anchor="middle" textLength="17.67" lengthAdjust="spacingAndGlyphs" style="font-size:9.9px">128</text><text x="274.02" y="919.20" text-anchor="middle" textLength="17.67" lengthAdjust="spacingAndGlyphs" style="font-size:9.9px">109</text><text x="297.99" y="919.20" text-anchor="middle" textLength="11.78" lengthAdjust="spacingAndGlyphs" style="font-size:9.9px">85</text><text x="321.96" y="919.20" text-anchor="middle" textLength="11.78" lengthAdjust="spacingAndGlyphs" style="font-size:9.9px">63</text><text x="345.93" y="919.20" text-anchor="middle" textLength="11.78" lengthAdjust="spacingAndGlyphs" style="font-size:9.9px">56</text><text x="369.90" y="919.20" text-anchor="middle" textLength="11.78" lengthAdjust="spacingAndGlyphs" style="font-size:9.9px">44</text><text x="393.87" y="919.20" text-anchor="middle" textLength="11.78" lengthAdjust="spacingAndGlyphs" style="font-size:9.9px">30</text><text x="417.84" y="919.20" text-anchor="middle" textLength="11.78" lengthAdjust="spacingAndGlyphs" style="font-size:9.9px">18</text><text x="441.81" y="919.20" text-anchor="middle" textLength="5.89" lengthAdjust="spacingAndGlyphs" style="font-size:9.9px">9</text><text x="465.78" y="919.20" text-anchor="middle" textLength="5.89" lengthAdjust="spacingAndGlyphs" style="font-size:9.9px">3</text><text x="489.75" y="919.20" text-anchor="middle" textLength="5.89" lengthAdjust="spacingAndGlyphs" style="font-size:9.9px">0</text><path d="M130.2 641.2L134.5 641.2L134.5 641.6L135.1 641.6L135.1 642.2L135.7 642.2L137.6 642.2L137.6 642.9L139.5 642.9L140.7 642.9L140.7 643.7L141.8 643.7L142.6 643.7L142.6 645.2L143.4 645.2L144.6 645.2L144.6 646.8L145.7 646.8L146.8 646.8L146.8 648.3L148.0 648.3L148.8 648.3L148.8 650.2L149.5 650.2L151.1 650.2L151.1 651.4L152.6 651.4L153.8 651.4L153.8 651.8L154.9 651.8L156.1 651.8L156.1 652.9L157.2 652.9L158.8 652.9L158.8 653.7L160.3 653.7L161.9 653.7L161.9 655.6L163.4 655.6L167.3 655.6L167.3 656.9L171.2 656.9L172.0 656.9L172.0 658.3L173.8 658.3L173.8 659.8L174.6 659.8L175.5 659.8L175.5 661.2L177.2 661.2L177.2 662.7L178.1 662.7L179.2 662.7L179.2 663.9L181.5 663.9L181.5 665.0L182.7 665.0L186.3 665.0L186.3 666.0L190.0 666.0L192.3 666.0L192.3 667.7L194.6 667.7L195.8 667.7L195.8 668.9L198.0 668.9L198.0 670.0L199.2 670.0L200.9 670.0L200.9 671.2L202.7 671.2L203.0 671.2L203.0 672.4L203.5 672.4L203.5 673.5L203.8 673.5L204.7 673.5L204.7 674.5L206.4 674.5L206.4 675.5L207.3 675.5L217.7 675.5L217.7 675.8L218.2 675.8L218.2 676.9L218.8 676.9L221.2 676.9L221.2 678.7L223.5 678.7L224.7 678.7L224.7 679.9L226.9 679.9L226.9 681.0L228.1 681.0L230.4 681.0L230.4 682.0L232.7 682.0L233.6 682.0L233.6 683.2L235.6 683.2L235.6 684.4L236.5 684.4L240.3 684.4L240.3 686.3L244.2 686.3L246.1 686.3L246.1 687.3L250.0 687.3L250.0 688.3L251.9 688.3L253.3 688.3L253.3 689.8L256.2 689.8L256.2 691.2L257.7 691.2L260.6 691.2L260.6 693.1L263.5 693.1L267.4 693.1L267.4 695.0L271.2 695.0L273.1 695.0L273.1 696.5L276.9 696.5L276.9 697.9L278.8 697.9L281.7 697.9L281.7 699.8L284.6 699.8L286.6 699.8L286.6 701.7L288.5 701.7L296.2 701.7L296.2 702.2L298.1 702.2L298.1 703.7L300.0 703.7L302.9 703.7L302.9 704.6L305.8 704.6L308.6 704.6L308.6 705.6L311.5 705.6L313.2 705.6L313.2 706.5L315.0 706.5L316.9 706.5L316.9 707.5L318.8 707.5L320.8 707.5L320.8 709.4L333.3 709.4L333.3 711.3L345.8 711.3L345.8 716.5L366.0 716.5L366.0 718.5L372.7 718.5L372.7 720.0L376.5 720.0L376.5 721.9L380.8 721.9L380.8 726.7L389.0 726.7L389.0 729.6L392.0 729.6L392.0 732.5L402.9 732.5L402.9 737.7L461.9 737.7L461.9 761.3L487.5 761.3" stroke="#0a4a80" stroke-width="2.0" fill="none" stroke-linejoin="miter"/><path d="M130.2 641.4L138.0 641.4L138.0 642.3L142.0 642.3L142.0 644.5L145.0 644.5L145.0 647.0L148.0 647.0L148.0 651.2L156.0 651.2L156.0 653.3L165.4 653.3L165.4 655.0L167.5 655.0L167.5 656.9L174.0 656.9L174.0 660.0L178.0 660.0L178.0 663.0L182.0 663.0L182.0 665.4L196.0 665.4L196.0 667.0L200.0 667.0L200.0 670.0L217.5 670.0L217.5 673.2L231.0 673.2L231.0 676.7L234.6 676.7L234.6 678.7L236.5 678.7L236.5 681.9L313.5 681.9" stroke="#c4102e" stroke-width="2.0" fill="none" stroke-linejoin="miter"/><path d="M130.5 638.5v5.4M131.5 638.5v5.4M132.5 638.5v5.4M133.5 638.5v5.4M134.5 638.9v5.4M135.5 639.5v5.4M136.5 639.5v5.4M138.5 640.2v5.4M139.5 640.2v5.4M141.5 641.0v5.4M142.5 641.0v5.4M144.5 642.5v5.4M145.5 644.1v5.4M147.5 645.6v5.4M150.5 647.5v5.4M153.5 648.7v5.4M156.5 649.1v5.4M159.5 651.0v5.4M162.5 652.9v5.4M166.5 652.9v5.4M170.5 654.2v5.4M173.5 655.6v5.4M177.5 658.5v5.4M181.5 661.1v5.4M186.5 662.3v5.4M191.5 663.3v5.4M196.5 666.1v5.4M201.5 668.5v5.4M205.5 671.8v5.4M209.5 672.8v5.4M214.5 672.8v5.4M220.5 674.2v5.4M224.5 676.0v5.4M229.5 678.3v5.4M234.5 680.5v5.4M240.5 681.7v5.4M246.5 683.6v5.4M250.5 685.6v5.4M255.5 687.0v5.4M260.5 688.5v5.4M266.5 690.4v5.4M272.5 692.3v5.4M277.5 695.2v5.4M283.5 697.1v5.4M289.5 699.0v5.4M293.5 699.0v5.4M298.5 699.5v5.4M304.5 701.9v5.4M309.5 702.9v5.4M313.5 702.9v5.4M317.5 704.8v5.4M321.5 706.7v5.4M333.5 708.6v5.4M336.5 708.6v5.4M339.5 708.6v5.4M341.5 708.6v5.4M343.5 708.6v5.4M349.5 713.8v5.4M352.5 713.8v5.4M355.5 713.8v5.4M357.5 713.8v5.4M359.5 713.8v5.4M361.5 713.8v5.4M368.5 715.8v5.4M370.5 715.8v5.4M386.5 724.0v5.4M387.5 724.0v5.4M388.5 724.0v5.4M395.5 729.8v5.4M400.5 729.8v5.4M405.5 735.0v5.4M409.5 735.0v5.4M412.5 735.0v5.4M417.5 735.0v5.4M418.5 735.0v5.4M420.5 735.0v5.4M422.5 735.0v5.4M424.5 735.0v5.4M426.5 735.0v5.4M428.5 735.0v5.4M431.5 735.0v5.4M435.5 735.0v5.4M436.5 735.0v5.4M440.5 735.0v5.4M445.5 735.0v5.4M451.5 735.0v5.4M458.5 735.0v5.4M460.5 735.0v5.4M474.5 758.6v5.4M481.5 758.6v5.4M484.5 758.6v5.4" stroke="#0a4a80" stroke-width="1.3" fill="none"/><path d="M149.5 648.5v5.4M152.5 648.5v5.4M154.5 648.5v5.4M168.5 654.2v5.4M171.5 654.2v5.4M172.5 654.2v5.4M185.5 662.7v5.4M190.5 662.7v5.4M191.5 662.7v5.4M196.5 664.3v5.4M198.5 664.3v5.4M204.5 667.3v5.4M215.5 667.3v5.4M217.5 667.3v5.4M225.5 670.5v5.4M228.5 670.5v5.4M230.5 670.5v5.4M240.5 679.2v5.4M243.5 679.2v5.4M251.5 679.2v5.4M255.5 679.2v5.4M258.5 679.2v5.4M260.5 679.2v5.4M262.5 679.2v5.4M264.5 679.2v5.4M268.5 679.2v5.4M276.5 679.2v5.4M286.5 679.2v5.4M289.5 679.2v5.4M291.5 679.2v5.4M294.5 679.2v5.4M297.5 679.2v5.4M301.5 679.2v5.4M303.5 679.2v5.4M312.5 679.2v5.4" stroke="#c4102e" stroke-width="1.3" fill="none"/>
</svg></body></html>
